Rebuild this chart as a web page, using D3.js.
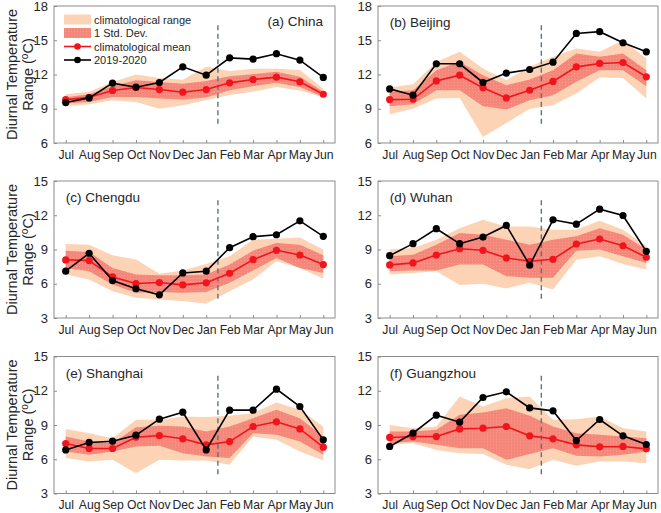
<!DOCTYPE html>
<html><head><meta charset="utf-8">
<script src="https://cdn.jsdelivr.net/npm/d3@7"></script>
<style>body{margin:0;background:#fff}svg{display:block}text{font-family:"Liberation Sans",Arial,sans-serif}</style>
</head><body>
<script>
const months = ["Jul","Aug","Sep","Oct","Nov","Dec","Jan","Feb","Mar","Apr","May","Jun"];
const ticksA = [6,9,12,15,18];
const ticksB = [3,6,9,12,15];

// (a) China
const chinaObs  = [9.54,9.95,11.24,10.89,11.3,12.67,11.94,13.46,13.35,13.82,13.26,11.74];
const chinaMean = [9.8,10.0,10.6,10.86,10.68,10.45,10.68,11.27,11.56,11.77,11.36,10.27];
const chinaRHi  = [10.27,10.5,11.35,12.0,11.7,11.55,12.67,12.3,12.5,12.5,12.4,10.75];
const chinaRLo  = [9.2,9.4,9.75,9.6,9.0,9.3,9.75,10.2,10.5,10.9,10.6,10.0];
const chinaSHi  = [10.0,10.27,10.98,11.5,11.35,11.2,11.44,11.85,12.03,12.23,11.8,10.5];
const chinaSLo  = [9.45,9.6,10.04,10.04,9.9,9.8,9.98,10.63,10.98,11.27,10.9,10.04];
// (b) Beijing
const beijingObs  = [10.74,10.19,12.94,12.94,11.3,12.12,12.44,13.08,15.6,15.75,14.78,13.99];
const beijingMean = [9.8,9.83,11.44,11.94,10.83,9.95,10.62,11.39,12.67,12.97,13.05,11.8];
const beijingRHi  = [10.86,11.15,13.1,14.0,12.53,11.5,12.67,13.55,14.28,14.0,15.0,13.4];
const beijingRLo  = [8.52,9.0,9.9,9.95,6.53,7.76,9.0,9.3,10.33,11.74,11.7,9.9];
const beijingSHi  = [10.48,10.63,12.38,13.11,11.94,11.06,11.56,12.38,13.84,13.55,13.84,12.38];
const beijingSLo  = [9.22,9.4,10.63,10.63,9.22,8.93,9.75,10.19,11.36,12.38,12.38,10.98];
// (c) Chengdu
const chengduObs  = [7.1,8.67,6.28,5.56,5.03,6.95,7.1,9.16,10.12,10.29,11.51,10.15];
const chengduMean = [8.09,8.03,6.6,6.02,6.11,5.9,6.08,6.92,8.11,8.93,8.52,7.68];
const chengduRHi  = [9.48,9.42,8.49,8.12,6.87,7.16,7.74,8.4,9.86,9.94,10.06,8.99];
const chengduRLo  = [6.8,6.37,5.35,4.77,4.63,4.48,4.25,5.35,6.37,7.97,7.39,6.43];
const chengduSHi  = [8.9,8.78,7.39,6.8,6.75,6.75,6.8,7.68,8.9,9.57,9.42,8.49];
const chengduSLo  = [7.39,7.1,5.94,5.21,5.27,5.21,5.27,6.08,7.16,8.26,7.39,6.95];
// (d) Wuhan
const wuhanObs  = [8.46,9.51,10.82,9.51,10.09,11.11,7.62,11.6,11.22,12.53,11.98,8.84];
const wuhanMean = [7.65,7.82,8.52,9.07,8.93,8.26,7.97,8.14,9.48,9.92,9.33,8.32];
const wuhanRHi  = [8.99,9.13,9.86,10.87,11.6,11.02,11.02,10.73,10.73,11.51,10.73,9.28];
const wuhanRLo  = [6.81,6.95,7.1,5.88,5.99,5.59,6.08,5.5,8.11,8.4,7.74,7.24];
const wuhanSHi  = [8.4,8.55,9.42,10.44,10.29,9.86,9.42,9.86,10.15,10.87,10.29,8.99];
const wuhanSLo  = [7.1,7.16,7.16,7.68,7.68,6.66,6.52,6.52,8.9,8.99,8.4,7.82];
// (e) Shanghai
const shanghaiObs  = [6.82,7.47,7.58,8.11,9.51,10.12,6.82,10.3,10.3,12.14,10.62,7.7];
const shanghaiMean = [7.38,6.94,6.94,7.93,8.08,7.79,7.26,7.55,8.87,9.28,8.66,7.06];
const shanghaiRHi  = [8.64,8.28,7.85,9.45,9.45,9.74,9.69,9.8,10.04,10.97,10.33,8.87];
const shanghaiRLo  = [6.1,5.8,5.95,4.78,5.95,5.89,5.89,5.51,7.99,7.7,6.68,5.89];
const shanghaiSHi  = [7.99,7.55,7.41,8.81,8.93,8.87,8.43,8.87,9.6,10.33,9.6,7.99];
const shanghaiSLo  = [6.68,6.39,6.68,7.12,7.18,6.53,6.24,6.1,8.28,8.14,7.55,6.39];
// (f) Guangzhou
const guangzhouObs  = [7.12,8.28,9.86,9.25,11.41,11.91,10.5,10.24,7.64,9.48,8.05,7.29];
const guangzhouMean = [7.91,7.99,7.99,8.66,8.72,8.87,8.05,7.79,7.26,7.09,7.12,6.91];
const guangzhouRHi  = [9.01,8.72,8.87,11.5,10.62,11.35,11.5,9.45,9.51,9.74,8.72,8.43];
const guangzhouRLo  = [7.26,7.41,6.82,6.53,6.47,5.51,5.13,5.95,5.42,5.8,5.8,5.66];
const guangzhouSHi  = [8.43,8.43,8.58,9.89,10.1,10.47,9.8,8.87,8.28,8.14,7.99,7.85];
const guangzhouSLo  = [7.41,7.55,7.26,6.97,6.97,5.95,6.47,6.97,6.3,6.24,6.39,6.68];

const legendLabels = ["climatological range","1 Std. Dev.","climatological mean","2019-2020"];

const panels = [
  {title:"(a) China", obs:chinaObs, mean:chinaMean, rHi:chinaRHi, rLo:chinaRLo, sHi:chinaSHi, sLo:chinaSLo, yt:ticksA, col:0,row:0, titleRight:true, legend:true},
  {title:"(b) Beijing", obs:beijingObs, mean:beijingMean, rHi:beijingRHi, rLo:beijingRLo, sHi:beijingSHi, sLo:beijingSLo, yt:ticksA, col:1,row:0},
  {title:"(c) Chengdu", obs:chengduObs, mean:chengduMean, rHi:chengduRHi, rLo:chengduRLo, sHi:chengduSHi, sLo:chengduSLo, yt:ticksB, col:0,row:1},
  {title:"(d) Wuhan", obs:wuhanObs, mean:wuhanMean, rHi:wuhanRHi, rLo:wuhanRLo, sHi:wuhanSHi, sLo:wuhanSLo, yt:ticksB, col:1,row:1},
  {title:"(e) Shanghai", obs:shanghaiObs, mean:shanghaiMean, rHi:shanghaiRHi, rLo:shanghaiRLo, sHi:shanghaiSHi, sLo:shanghaiSLo, yt:ticksB, col:0,row:2},
  {title:"(f) Guangzhou", obs:guangzhouObs, mean:guangzhouMean, rHi:guangzhouRHi, rLo:guangzhouRLo, sHi:guangzhouSHi, sLo:guangzhouSLo, yt:ticksB, col:1,row:2}
];

const W=661,H=513;
const colX=[54,378], colW=[281,280], rowY=[6,181,356.5], pH=137;
const C={range:"#fdd3b6", sd:"#f4877a", mean:"#f2141c", obs:"#000", axis:"#8c8c8c", text:"#262626", dash:"#5b7380"};

const svg=d3.select("body").append("svg").attr("width",W).attr("height",H);
const defs=svg.append("defs");
const pat=defs.append("pattern").attr("id","dots").attr("width",3).attr("height",3).attr("patternUnits","userSpaceOnUse");
pat.append("rect").attr("width",3).attr("height",3).attr("fill",C.sd);
pat.append("rect").attr("x",1).attr("y",1).attr("width",1).attr("height",1).attr("fill","#f89a8d");

panels.forEach(p=>{
  const x0=colX[p.col], y0=rowY[p.row], w=colW[p.col];
  const g=svg.append("g").attr("transform",`translate(${x0},${y0})`);
  const x=d3.scaleLinear().domain([-0.5,11.5]).range([0,w]);
  const y=d3.scaleLinear().domain([p.yt[0],p.yt[p.yt.length-1]]).range([pH,0]);
  const idx=d3.range(12);
  const area=(lo,hi)=>d3.area().x(i=>x(i)).y0(i=>y(lo[i])).y1(i=>y(hi[i]))(idx);
  g.append("path").attr("d",area(p.rLo,p.rHi)).attr("fill",C.range);
  g.append("path").attr("d",area(p.sLo,p.sHi)).attr("fill","url(#dots)");
  // dashed line
  g.append("line").attr("x1",x(6.5)).attr("x2",x(6.5)).attr("y1",pH*0.14).attr("y2",pH*0.875)
    .attr("stroke",C.dash).attr("stroke-width",1.4).attr("stroke-dasharray","5,3.5");
  g.append("path").attr("d",d3.line().x(i=>x(i)).y(i=>y(p.mean[i]))(idx)).attr("fill","none").attr("stroke",C.mean).attr("stroke-width",1.6);
  g.selectAll(".m").data(idx).join("circle").attr("cx",i=>x(i)).attr("cy",i=>y(p.mean[i])).attr("r",3.6).attr("fill",C.mean);
  g.append("path").attr("d",d3.line().x(i=>x(i)).y(i=>y(p.obs[i]))(idx)).attr("fill","none").attr("stroke",C.obs).attr("stroke-width",1.6);
  g.selectAll(".o").data(idx).join("circle").attr("cx",i=>x(i)).attr("cy",i=>y(p.obs[i])).attr("r",3.6).attr("fill",C.obs);
  // axes
  const xa=g.append("g").attr("transform",`translate(0,${pH})`)
    .call(d3.axisBottom(x).tickValues(idx).tickFormat(i=>months[i]).tickSizeInner(-3).tickSizeOuter(0).tickPadding(7));
  const ya=g.append("g").call(d3.axisLeft(y).tickValues(p.yt).tickSizeInner(-3).tickSizeOuter(0).tickPadding(6));
  [xa,ya].forEach(a=>{a.select(".domain").remove();a.selectAll("line").attr("stroke",C.axis);
    a.selectAll("text").attr("fill",C.text).style("font-family","'Liberation Sans',Arial,sans-serif");});
  xa.selectAll("text").style("font-size","12.2px");
  ya.selectAll("text").style("font-size","13px");
  g.append("rect").attr("width",w).attr("height",pH).attr("fill","none").attr("stroke",C.axis).attr("stroke-width",1);
  // title
  if(p.titleRight){
    g.append("text").attr("x",w-12).attr("y",20).attr("text-anchor","end").attr("fill",C.text).style("font-size","13.5px").text(p.title);
  } else {
    g.append("text").attr("x",x(0)).attr("y",21).attr("fill",C.text).style("font-size","13.5px").text(p.title);
  }
  // y label
  if(p.col===0){
    const cy=y0+pH/2;
    svg.append("text").attr("transform",`translate(16.5,${cy}) rotate(-90)`).attr("text-anchor","middle").attr("fill",C.text).style("font-size","14.5px").text("Diurnal Temperature");
    const t=svg.append("text").attr("transform",`translate(32.5,${cy}) rotate(-90)`).attr("text-anchor","middle").attr("fill",C.text).style("font-size","14.5px");
    t.append("tspan").text("Range (");
    t.append("tspan").attr("dy",-5).style("font-size","10px").text("o");
    t.append("tspan").attr("dy",5).text("C)");
  }
  if(p.legend){
    const lg=g.append("g").attr("transform","translate(10,0)");
    const rows=[13.5,27,40.5,54];
    lg.append("rect").attr("x",0).attr("y",rows[0]-5).attr("width",27).attr("height",10).attr("fill",C.range);
    lg.append("rect").attr("x",0).attr("y",rows[1]-5).attr("width",27).attr("height",10).attr("fill","url(#dots)");
    lg.append("line").attr("x1",0).attr("x2",27).attr("y1",rows[2]).attr("y2",rows[2]).attr("stroke",C.mean).attr("stroke-width",1.6);
    lg.append("circle").attr("cx",13.5).attr("cy",rows[2]).attr("r",3.3).attr("fill",C.mean);
    lg.append("line").attr("x1",0).attr("x2",27).attr("y1",rows[3]).attr("y2",rows[3]).attr("stroke",C.obs).attr("stroke-width",1.6);
    lg.append("circle").attr("cx",13.5).attr("cy",rows[3]).attr("r",3.3).attr("fill",C.obs);
    legendLabels.forEach((l,i)=>lg.append("text").attr("x",30).attr("y",rows[i]+4).attr("fill",C.text).style("font-size","11px").text(l));
  }
});
</script>
</body></html>
